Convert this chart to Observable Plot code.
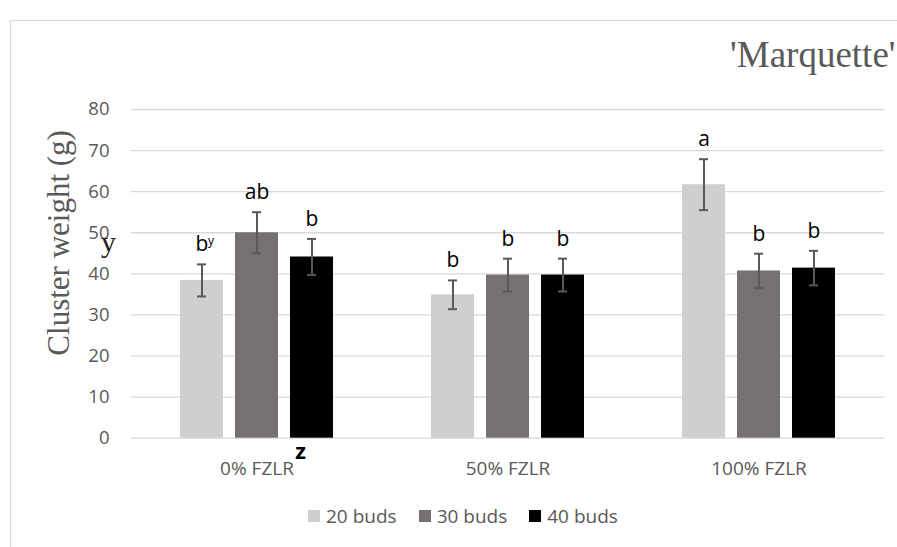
<!DOCTYPE html>
<html><head><meta charset="utf-8">
<script src="https://cdn.jsdelivr.net/npm/d3@7"></script>
<script src="https://cdn.jsdelivr.net/npm/@observablehq/plot@0.6"></script>
<style>
html,body{margin:0;padding:0;background:#fff;}
#wrap{position:relative;width:897px;height:547px;overflow:hidden;}
#frame{position:absolute;left:10px;top:20px;width:1000px;height:600px;border-left:1.5px solid #d9d9d9;border-top:1.5px solid #d9d9d9;}
#chart{position:absolute;left:0;top:0;}
#legend{position:absolute;left:0;top:490px;width:897px;}
.lg-swatches{font-family:"Open Sans",sans-serif !important;font-size:19px !important;color:#595959 !important;margin:0 !important;}
.lg-swatches-wrap{padding-left:308px;min-height:52px !important;}
.lg-swatches-wrap .lg-swatch{margin-right:22px !important;}
.lg-swatch > svg{margin-right:6px !important;}
</style>
</head>
<body>
<div id="wrap"><div id="frame"></div><div id="chart"></div><div id="legend"></div></div>
<script>
const groups = ["0% FZLR", "50% FZLR", "100% FZLR"];
const series = ["20 buds", "30 buds", "40 buds"];
const colors = ["#d0cece", "#767171", "#000000"];
const means20 = [38.4, 34.9, 61.7];
const means30 = [50.0, 39.7, 40.7];
const means40 = [44.1, 39.7, 41.4];
const err20 = [3.9, 3.5, 6.2];
const err30 = [5.0, 4.0, 4.2];
const err40 = [4.4, 4.0, 4.2];
const letters20 = ["b", "b", "a"];
const letters30 = ["ab", "b", "b"];
const letters40 = ["b", "b", "b"];
const yTicks = [0, 10, 20, 30, 40, 50, 60, 70, 80];
const title = "'Marquette'";
const yTitle = "Cluster weight (g)";

const means = [means20, means30, means40];
const errs = [err20, err30, err40];
const letters = [letters20, letters30, letters40];
const rows = [];
groups.forEach((g, i) => series.forEach((s, j) => rows.push({group: g, buds: s, mean: means[j][i], err: errs[j][i], letter: letters[j][i]})));
const supRows = rows.filter(d => d.group === groups[0] && d.buds === series[0]).map(d => ({...d, letter: "y"}));

const H = 490;
const chart = Plot.plot({
  width: 897, height: H,
  marginLeft: 130, marginRight: 13, marginTop: 109, marginBottom: H - 437.7,
  style: {fontFamily: '"Open Sans", sans-serif', fontSize: "19px", color: "#595959", background: "transparent", overflow: "visible"},
  fx: {domain: groups, padding: 0, label: null},
  x: {domain: series, paddingInner: 0.21, paddingOuter: 0.855, axis: null},
  y: {domain: [0, 80]},
  color: {domain: series, range: colors},
  marks: [
    Plot.ruleY(yTicks, {stroke: "#d9d9d9", strokeWidth: 1.3}),
    Plot.axisY({ticks: yTicks, tickSize: 0, tickPadding: 22, fontSize: 18.5, label: null}),
    Plot.axisFx({anchor: "bottom", tickSize: 0, tickPadding: 23, label: null, fontSize: 19}),
    Plot.barY(rows, {fx: "group", x: "buds", y: "mean", fill: "buds"}),
    Plot.ruleX(rows, {fx: "group", x: "buds", y1: d => d.mean - d.err, y2: d => d.mean + d.err, stroke: "#595959", strokeWidth: 2}),
    Plot.tickY(rows, {fx: "group", x: "buds", y: d => d.mean + d.err, insetLeft: 17, insetRight: 17, stroke: "#595959", strokeWidth: 2}),
    Plot.tickY(rows, {fx: "group", x: "buds", y: d => d.mean - d.err, insetLeft: 17, insetRight: 17, stroke: "#595959", strokeWidth: 2}),
    Plot.text(rows, {fx: "group", x: "buds", y: d => d.mean + d.err, text: "letter", lineAnchor: "bottom", dy: -13, fontSize: 21, fill: "#000"}),
    Plot.text(supRows, {fx: "group", x: "buds", y: d => d.mean + d.err, text: "letter", lineAnchor: "bottom", dy: -19.5, dx: 9, fontSize: 12, fill: "#000"}),
    Plot.text([{group: groups[2], label: title}], {fx: "group", text: "label", frameAnchor: "top-right", textAnchor: "end", lineAnchor: "bottom", dx: 11, dy: -42.3, fontFamily: '"Liberation Serif", serif', fontSize: 37, fill: "#595959"}),
    Plot.text([{group: groups[0], label: yTitle}], {fx: "group", text: "label", frameAnchor: "left", rotate: -90, textAnchor: "middle", lineAnchor: "bottom", dx: -63, dy: -31, fontFamily: '"Liberation Serif", serif', fontSize: 31, fill: "#595959"}),
    Plot.text([{group: groups[0], label: "y"}], {fx: "group", text: "label", frameAnchor: "left", textAnchor: "middle", lineAnchor: "bottom", dx: -23, dy: -22.3, fontFamily: '"Liberation Serif", serif', fontSize: 30, fill: "#222"}),
    Plot.text([{group: groups[0], buds: series[2], label: "z"}], {fx: "group", x: "buds", text: "label", frameAnchor: "bottom", textAnchor: "middle", lineAnchor: "bottom", dx: -11.5, dy: 20.3, fontWeight: "bold", fontSize: 22, fill: "#000"})
  ]
});
document.getElementById("chart").append(chart);

const legend = Plot.legend({color: {type: "ordinal", domain: series, range: colors}, legend: "swatches", swatchSize: 12, className: "lg"});
document.getElementById("legend").append(legend);
</script>
</body></html>
